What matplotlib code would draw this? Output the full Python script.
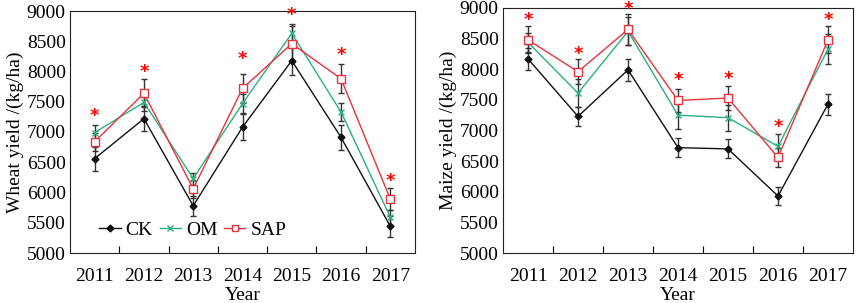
import matplotlib.pyplot as plt
from matplotlib.lines import Line2D
import numpy as np

plt.rcParams['font.family'] = ['Liberation Serif', 'DejaVu Serif']

years = ['2011', '2012', '2013', '2014', '2015', '2016', '2017']

# wheat
wheat_ck = [6560, 7220, 5780, 7080, 8180, 6910, 5440]
wheat_ck_err = [200, 210, 170, 215, 240, 205, 170]
wheat_om = [6990, 7490, 6230, 7470, 8630, 7330, 5590]
wheat_om_err = [130, 150, 100, 150, 160, 150, 120]
wheat_sap = [6840, 7640, 6060, 7720, 8460, 7880, 5890]
wheat_sap_err = [150, 230, 150, 240, 300, 240, 180]
wheat_star = [7260, 8000, None, 8200, 8930, 8270, 6190]

# maize
maize_ck = [8170, 7230, 7990, 6720, 6700, 5930, 7430]
maize_ck_err = [180, 160, 180, 160, 155, 140, 170]
maize_om = [8440, 7610, 8620, 7250, 7210, 6740, 8330]
maize_om_err = [160, 230, 230, 220, 210, 200, 250]
maize_sap = [8480, 7960, 8650, 7490, 7530, 6560, 8480]
maize_sap_err = [220, 200, 260, 190, 190, 160, 220]
maize_star = [8800, 8250, 8990, 7820, 7840, 7050, 8800]

c_ck = '#111111'
c_om = '#2bb07f'
c_sap = '#e8323c'
c_err = '#333333'

fig = plt.figure(figsize=(8.58, 3.03), dpi=100)
ax1 = fig.add_axes([70/858, 50/303, 345/858, 242/303])
ax2 = fig.add_axes([503/858, 50/303, 350/858, 245/303])


def draw(ax, ck, ck_e, om, om_e, sap, sap_e, stars, ylabel):
    x = np.arange(len(years))
    ax.errorbar(x, ck, yerr=ck_e, color=c_ck, ecolor=c_err, elinewidth=1,
                capsize=2.5, capthick=1, marker='D', markersize=3.5, lw=1)
    ax.errorbar(x, om, yerr=om_e, color=c_om, ecolor=c_err, elinewidth=1,
                capsize=2.5, capthick=1, marker='x', markersize=4, mew=1, lw=1)
    ax.errorbar(x, sap, yerr=sap_e, color=c_sap, ecolor=c_err, elinewidth=1,
                capsize=2.5, capthick=1, marker='s', markersize=6, mfc='white',
                mec=c_sap, mew=1, lw=1)
    for i, s in enumerate(stars):
        if s is not None:
            ax.text(i, s, '*', color='red', fontsize=13, ha='center', va='center',
                    family='DejaVu Sans', fontweight='bold', clip_on=False)
    ax.set_xlim(-0.5, len(years) - 0.5)
    ax.set_ylim(5000, 9000)
    ax.set_yticks(np.arange(5000, 9001, 500))
    ax.set_xticks(x)
    ax.set_xticklabels(years)
    ax.set_xticks(np.arange(0.5, len(years) - 1, 1), minor=True)
    ax.tick_params(axis='x', which='major', length=0, pad=11, labelsize=14)
    ax.tick_params(axis='x', which='minor', direction='in', length=5, width=0.8)
    ax.tick_params(axis='y', direction='in', length=0, labelsize=14, pad=3)
    ax.set_xlabel('Year', fontsize=14, labelpad=1)
    ax.set_ylabel(ylabel, fontsize=14, labelpad=2)
    for sp in ax.spines.values():
        sp.set_linewidth(0.8)
        sp.set_color('#222222')


draw(ax1, wheat_ck, wheat_ck_err, wheat_om, wheat_om_err, wheat_sap, wheat_sap_err,
     wheat_star, 'Wheat yield /(kg/ha)')
draw(ax2, maize_ck, maize_ck_err, maize_om, maize_om_err, maize_sap, maize_sap_err,
     maize_star, 'Maize yield /(kg/ha)')

handles = [
    Line2D([], [], color=c_ck, marker='D', markersize=3.5, lw=1),
    Line2D([], [], color=c_om, marker='x', markersize=4, mew=1, lw=1),
    Line2D([], [], color=c_sap, marker='s', markersize=5, mfc='white', mew=1, lw=1),
]
ax1.legend(handles, ['CK', 'OM', 'SAP'], loc='center left', bbox_to_anchor=(0.085, 0.095),
           ncol=3, frameon=False, fontsize=14, handlelength=1.1, handletextpad=0.25,
           columnspacing=0.35, borderaxespad=0, borderpad=0)

fig.savefig('out.png', dpi=100)
